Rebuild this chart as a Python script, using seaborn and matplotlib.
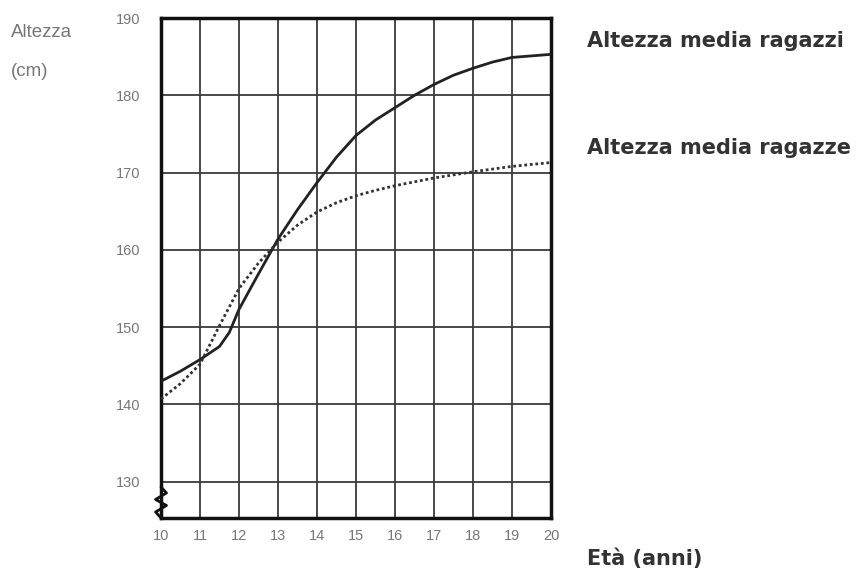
import numpy as np
import pandas as pd
import seaborn as sns
import matplotlib.pyplot as plt

# Average height by age
eta_ragazzi = [10, 10.5, 11, 11.5, 11.75, 12, 12.5, 13, 13.5, 14, 14.5, 15, 15.5, 16,
               16.5, 17, 17.5, 18, 18.5, 19, 19.5, 20]
altezza_ragazzi = [143.0, 144.3, 145.8, 147.5, 149.3, 152.3, 156.9, 161.4, 165.2, 168.7, 172.0,
                   174.8, 176.8, 178.4, 180.0, 181.4, 182.6, 183.5, 184.3, 184.9, 185.1, 185.3]

eta_ragazze = [10, 10.5, 11, 11.5, 12, 12.5, 13, 13.5, 14, 14.5, 15, 15.5, 16,
               17, 18, 19, 20]
altezza_ragazze = [140.7, 142.7, 145.2, 150.2, 155.0, 158.3, 161.0, 163.2, 164.9, 166.1, 167.0,
                   167.7, 168.3, 169.3, 170.1, 170.8, 171.3]

x_ticks = list(range(10, 21))
y_ticks = [130, 140, 150, 160, 170, 180, 190]

df_m = pd.DataFrame({'eta': eta_ragazzi, 'altezza': altezza_ragazzi})
df_f = pd.DataFrame({'eta': eta_ragazze, 'altezza': altezza_ragazze})

sns.set_style('white')
fig = plt.figure(figsize=(8.62, 5.74), dpi=100)
ax = fig.add_axes([0.1868, 0.0976, 0.4524, 0.871])

sns.lineplot(data=df_m, x='eta', y='altezza', ax=ax, color='#222222', linewidth=2.0, zorder=3)
sns.lineplot(data=df_f, x='eta', y='altezza', ax=ax, color='#333333', linewidth=2.0,
             linestyle=(0, (1, 1)), zorder=3)

ax.set_xlim(10, 20)
ax.set_ylim(125.3, 190)
ax.set_xticks(x_ticks)
ax.set_yticks(y_ticks)
ax.grid(True, color='#3a3a3a', linewidth=1.3, zorder=1)
ax.set_axisbelow(True)
ax.tick_params(length=0, labelsize=10.5, labelcolor='#777777')
ax.tick_params(axis='y', pad=15)
ax.tick_params(axis='x', pad=8)
for lab in ax.get_xticklabels() + ax.get_yticklabels():
    lab.set_family(['Liberation Sans', 'DejaVu Sans'])
ax.set_xlabel('')
ax.set_ylabel('')
for s in ax.spines.values():
    s.set_visible(True)
    s.set_color('#111111')
    s.set_linewidth(2.5)

# axis break zigzag at the bottom of the y axis
zx = [0.0, 0.014, -0.014, 0.014, -0.014, 0.0]
zy = [0.062, 0.05, 0.037, 0.025, 0.012, 0.0]
ax.plot(zx, zy, transform=ax.transAxes, color='#111111', linewidth=2, clip_on=False, zorder=5)

lab_font = ['Liberation Sans', 'DejaVu Sans']
fig.text(0.013, 0.943, 'Altezza', fontsize=13.5, color='#777777', va='center', family=lab_font)
fig.text(0.013, 0.876, '(cm)', fontsize=13.5, color='#777777', va='center', family=lab_font)

fig.text(0.681, 0.928, 'Altezza media ragazzi', fontsize=15, color='#333333', va='center', fontweight='bold')
fig.text(0.681, 0.743, 'Altezza media ragazze', fontsize=15, color='#333333', va='center', fontweight='bold')
fig.text(0.681, 0.027, 'Età (anni)', fontsize=15, color='#333333', va='center', fontweight='bold')

plt.savefig('out.png', dpi=100)
